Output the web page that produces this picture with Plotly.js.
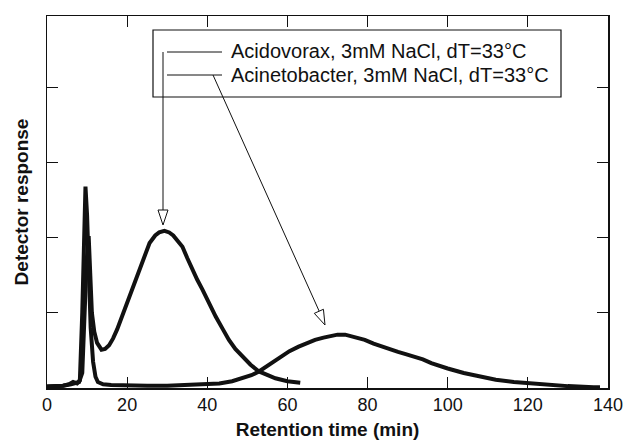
<!DOCTYPE html>
<html>
<head>
<meta charset="utf-8">
<script src="https://cdn.plot.ly/plotly-3.0.1.min.js"></script>
<style>html,body{margin:0;padding:0;background:#fff;}#chart{width:624px;height:447px;}</style>
</head>
<body>
<div id="chart"></div>
<script>
// Series data (retention time in minutes, detector response in arbitrary units)
var acidovoraxTime = [0, 2, 4, 6, 7, 8, 8.8, 9.4, 9.9, 10.4, 10.8, 11.2, 11.8, 12.5, 13.6, 14.5, 15.5, 16.5, 17.5, 18.5, 19.5, 20.5, 22, 23.1, 24.5, 25.6, 27, 28, 29.3, 30.5, 31.5, 32.5, 33.8, 35, 36.3, 37.5, 38.8, 40.5, 42.1, 43.8, 45.4, 47, 48.7, 50.8, 52.9, 55, 57, 60, 63.2];
var acidovoraxResp = [0.02, 0.02, 0.03, 0.05, 0.07, 0.08, 0.2, 1.0, 1.7, 2.02, 1.6, 1.0, 0.75, 0.6, 0.51, 0.52, 0.57, 0.66, 0.78, 0.92, 1.06, 1.2, 1.4, 1.57, 1.78, 1.93, 2.03, 2.07, 2.09, 2.07, 2.03, 1.97, 1.88, 1.73, 1.57, 1.44, 1.31, 1.12, 0.95, 0.79, 0.64, 0.52, 0.42, 0.31, 0.22, 0.17, 0.13, 0.09, 0.07];

var acinetoTime = [0, 2, 4, 5.5, 6.5, 7.5, 8.2, 8.8, 9.2, 9.6, 10, 10.4, 10.9, 11.5, 12.1, 12.7, 14, 16, 20, 25, 30, 35, 40, 43, 46.2, 49, 51, 52.9, 54.5, 56.5, 58.6, 60.5, 62.8, 64.8, 66.9, 69, 71, 72.5, 74.4, 76, 77.5, 79.3, 81.5, 83.5, 85.5, 87.6, 89.5, 91.7, 93.8, 95.9, 98, 100, 104, 108.3, 112, 116.5, 120.5, 124.8, 130, 136.4, 138];
var acinetoResp = [0.02, 0.02, 0.03, 0.05, 0.08, 0.06, 0.1, 1.0, 2.0, 2.68, 2.3, 1.5, 0.8, 0.35, 0.15, 0.08, 0.05, 0.04, 0.03, 0.03, 0.03, 0.04, 0.05, 0.06, 0.09, 0.13, 0.17, 0.22, 0.28, 0.35, 0.42, 0.49, 0.55, 0.6, 0.64, 0.67, 0.69, 0.71, 0.71, 0.69, 0.67, 0.64, 0.59, 0.55, 0.51, 0.48, 0.45, 0.42, 0.38, 0.33, 0.3, 0.26, 0.2, 0.15, 0.11, 0.08, 0.06, 0.04, 0.025, 0.01, 0.01];

var seriesNames = ["Acidovorax, 3mM NaCl, dT=33°C", "Acinetobacter, 3mM NaCl, dT=33°C"];
var xTickVals = [0, 20, 40, 60, 80, 100, 120, 140];
var yTickVals = [1, 2, 3, 4];

var W = 624, H = 447;
var M = {l: 47, r: 16, t: 16, b: 59};
var pw = W - M.l - M.r, ph = H - M.t - M.b;
function px(x) { return (x - M.l) / pw; }
function py(y) { return (H - M.b - y) / ph; }

var lineStyle = {color: '#111', width: 4};
var traces = [
  {x: acidovoraxTime, y: acidovoraxResp, mode: 'lines', line: lineStyle, name: seriesNames[0], hoverinfo: 'none'},
  {x: acinetoTime, y: acinetoResp, mode: 'lines', line: lineStyle, name: seriesNames[1], hoverinfo: 'none'}
];

function seg(x0, y0, x1, y1, w) {
  return {type: 'line', xref: 'paper', yref: 'paper', x0: px(x0), y0: py(y0), x1: px(x1), y1: py(y1),
          line: {color: '#111', width: w || 1}};
}
function head(tx, ty, fx, fy) {
  var dx = tx - fx, dy = ty - fy, L = Math.sqrt(dx * dx + dy * dy);
  dx /= L; dy /= L;
  var len = 15, hw = 5;
  var bx = tx - len * dx, by = ty - len * dy;
  var nx = -dy, ny = dx;
  var p1 = [bx + hw * nx, by + hw * ny], p2 = [bx - hw * nx, by - hw * ny];
  var path = 'M' + px(tx) + ',' + py(ty) + ' L' + px(p1[0]) + ',' + py(p1[1]) +
             ' L' + px(p2[0]) + ',' + py(p2[1]) + ' Z';
  return {type: 'path', xref: 'paper', yref: 'paper', path: path,
          line: {color: '#111', width: 1}, fillcolor: 'white'};
}

var shapes = [
  {type: 'rect', xref: 'paper', yref: 'paper', x0: px(153), y0: py(30), x1: px(561), y1: py(97),
   line: {color: '#111', width: 1.2}, fillcolor: 'white'},
  seg(167, 52, 222, 52), seg(167, 75, 222, 75),
  seg(163, 52, 163, 212), head(163, 225, 163, 52),
  seg(213, 75, 320, 313), head(325, 325, 213, 75)
];

var annotations = [
  {xref: 'paper', yref: 'paper', x: px(229), y: py(51), xanchor: 'left', yanchor: 'middle',
   text: seriesNames[0], showarrow: false, font: {family: 'Liberation Sans, Arial, sans-serif', size: 20, color: '#111'}},
  {xref: 'paper', yref: 'paper', x: px(229), y: py(75), xanchor: 'left', yanchor: 'middle',
   text: seriesNames[1], showarrow: false, font: {family: 'Liberation Sans, Arial, sans-serif', size: 20, color: '#111'}}
];

var axisCommon = {
  showgrid: false, zeroline: false, showline: true, linecolor: '#111', linewidth: 1.5,
  mirror: 'allticks', ticks: 'inside', ticklen: 11, tickwidth: 1.2, tickcolor: '#111'
};

var layout = {
  width: W, height: H, margin: M, showlegend: false,
  paper_bgcolor: 'white', plot_bgcolor: 'white',
  font: {family: 'Liberation Sans, Arial, sans-serif', color: '#111'},
  xaxis: Object.assign({}, axisCommon, {
    range: [0, 140], tickvals: xTickVals, ticktext: xTickVals.map(String),
    tickfont: {size: 18, color: '#111'}, ticklabeloverflow: 'allow',
    title: {text: '<b>Retention time (min)</b>', font: {size: 19, color: '#111'}, standoff: 8}
  }),
  yaxis: Object.assign({}, axisCommon, {
    range: [0, 4.95], tickvals: yTickVals, showticklabels: false,
    title: {text: '<b>Detector response</b>', font: {size: 19, color: '#111'}, standoff: 12}
  }),
  shapes: shapes, annotations: annotations
};

Plotly.newPlot('chart', traces, layout, {staticPlot: true, displayModeBar: false});
</script>
</body>
</html>
